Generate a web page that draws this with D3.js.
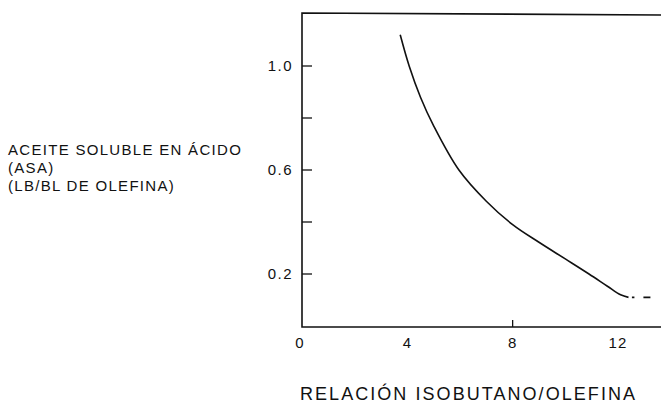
<!DOCTYPE html>
<html>
<head>
<meta charset="utf-8">
<script src="https://cdn.jsdelivr.net/npm/d3@7"></script>
<style>
  body { margin: 0; background: #fff; }
  text { font-family: "Liberation Sans", Arial, sans-serif; fill: #111; }
</style>
</head>
<body>
<script>
const width = 661;
const height = 405;
const margin = {"top": 13, "bottom": 78, "right": 0, "left": 302};

// curve: isobutane/olefin ratio vs acid soluble oil
const ratio = [3.73, 4.07, 4.5, 5.0, 5.96, 7.0, 8.0, 9.0, 10.0, 10.9, 11.6, 12.1, 12.4];
const asa   = [1.12, 1.0, 0.88, 0.77, 0.6, 0.48, 0.39, 0.322, 0.258, 0.2, 0.153, 0.12, 0.11];
const tailRatio = [12.53, 13.25];
const tailAsa = [0.11, 0.11];

const xTicks = [0, 4, 8, 12];
const xTickMarks = [8];
const yTicks = [0.2, 0.6, 1.0];
const yTickMarks = [0.2, 0.4, 0.6, 0.8, 1.0];
const yTitle = ["ACEITE SOLUBLE EN ÁCIDO", "(ASA)", "(LB/BL DE OLEFINA)"];
const xTitle = "RELACIÓN ISOBUTANO/OLEFINA";

const svg = d3.select("body").append("svg")
    .attr("width", width)
    .attr("height", height);

let xScale = d3.scaleLinear().domain([0, 13.6]).range([margin.left, margin.left + 13.6 * 26.33]);
let yScale = d3.scaleLinear().domain([0, 1.2]).range([326, margin.top + 1]);

const bottomY = height - margin.bottom;

// frame: top, left, bottom (no right side)
svg.append("path")
    .attr("d", `M${width},${margin.top + 2}L${margin.left},${margin.top}L${margin.left},${bottomY}L${width},${bottomY}`)
    .attr("fill", "none")
    .attr("stroke", "#111")
    .attr("stroke-width", 1.6);

// y ticks pointing inward
svg.selectAll(".ytick").data(yTickMarks).enter()
  .append("line")
    .attr("x1", margin.left)
    .attr("x2", margin.left + 10)
    .attr("y1", d => yScale(d))
    .attr("y2", d => yScale(d))
    .attr("stroke", "#111")
    .attr("stroke-width", 1.3);

svg.selectAll(".ylab").data(yTicks).enter()
  .append("text")
    .attr("x", margin.left - 9)
    .attr("y", d => yScale(d) + 5)
    .attr("text-anchor", "end")
    .attr("font-size", "15px")
    .attr("letter-spacing", "1.5px")
    .text(d => d.toFixed(1));

// x ticks
svg.selectAll(".xtick").data(xTickMarks).enter()
  .append("line")
    .attr("x1", d => xScale(d))
    .attr("x2", d => xScale(d))
    .attr("y1", bottomY)
    .attr("y2", bottomY - 7)
    .attr("stroke", "#111")
    .attr("stroke-width", 1.3);

svg.selectAll(".xlab").data(xTicks).enter()
  .append("text")
    .attr("x", d => xScale(d) - (d === 0 ? 2 : 0))
    .attr("y", bottomY + 21)
    .attr("text-anchor", "middle")
    .attr("font-size", "15px")
    .attr("letter-spacing", "1px")
    .text(d => d);

// curve
let line = d3.line()
    .x(d => xScale(d[0]))
    .y(d => yScale(d[1]))
    .curve(d3.curveCatmullRom.alpha(0.5));

svg.append("path")
    .datum(d3.zip(ratio, asa))
    .attr("d", line)
    .attr("fill", "none")
    .attr("stroke", "#111")
    .attr("stroke-width", 1.6);

svg.append("path")
    .datum(d3.zip(tailRatio, tailAsa))
    .attr("d", d3.line().x(d => xScale(d[0])).y(d => yScale(d[1])))
    .attr("fill", "none")
    .attr("stroke", "#111")
    .attr("stroke-width", 1.6)
    .attr("stroke-dasharray", "2.5,9,7,50");

// titles
svg.selectAll(".ytitle").data(yTitle).enter()
  .append("text")
    .attr("x", 8)
    .attr("y", (d, i) => 155 + i * 18)
    .attr("font-size", "15px")
    .attr("letter-spacing", "1.3px")
    .text(d => d);

svg.append("text")
    .attr("x", 300)
    .attr("y", 400)
    .attr("font-size", "18px")
    .attr("textLength", 335)
    .attr("lengthAdjust", "spacing")
    .text(xTitle);
</script>
</body>
</html>
